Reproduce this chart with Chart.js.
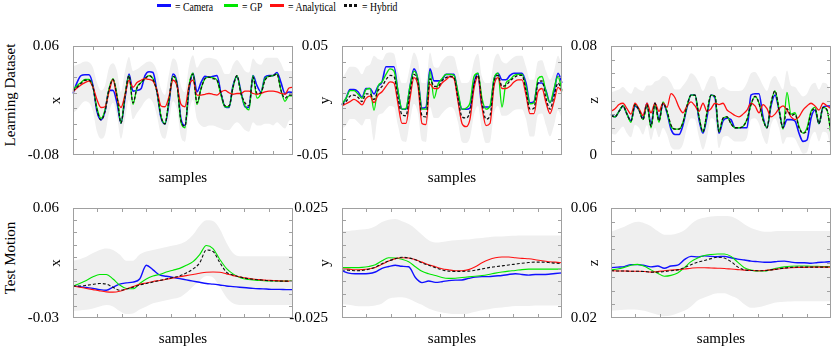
<!DOCTYPE html>
<html>
<head>
<meta charset="utf-8">
<script src="https://cdn.jsdelivr.net/npm/chart.js@4.4.1/dist/chart.umd.min.js"></script>
<style>
  body { margin: 0; width: 831px; height: 348px; overflow: hidden; background: #fff; position: relative;
         font-family: 'Liberation Serif', 'Times New Roman', serif; }
  canvas { position: absolute; }
  .leg { position: absolute; top: 0; font-size: 13.5px; line-height: 14px; white-space: nowrap;
         transform: scaleX(0.72); transform-origin: 0 0; }
  .sw { position: absolute; top: 4px; width: 14px; height: 3px; }
  .row { position: absolute; font-size: 15px; white-space: nowrap; transform: translate(-50%, -50%) rotate(-90deg); }
</style>
</head>
<body>

<div class="sw" style="left:157px;background:#1010ff"></div><div class="leg" style="left:175px">= Camera</div>
<div class="sw" style="left:224px;background:#00e600"></div><div class="leg" style="left:242px">= GP</div>
<div class="sw" style="left:270px;background:#ff1010"></div><div class="leg" style="left:288px">= Analytical</div>
<div class="sw" style="left:344px;background:repeating-linear-gradient(90deg,#111 0 3px,transparent 3px 5px)"></div><div class="leg" style="left:362px">= Hybrid</div>

<div class="row" style="left:10px;top:95px">Learning Dataset</div>
<div class="row" style="left:10px;top:258px">Test Motion</div>

<canvas id="g1" width="301" height="167" style="left:0px;top:23px"></canvas>
<canvas id="g2" width="301" height="167" style="left:269px;top:23px"></canvas>
<canvas id="g3" width="301" height="167" style="left:538px;top:23px"></canvas>
<canvas id="g4" width="301" height="168" style="left:0px;top:185px"></canvas>
<canvas id="g5" width="301" height="168" style="left:269px;top:185px"></canvas>
<canvas id="g6" width="301" height="168" style="left:538px;top:185px"></canvas>

<script>
// ---- Learning Dataset, x ----
var learnXCamera = [-0.001,0.013,0.022,0.023,0.023,0.009,-0.024,-0.035,-0.024,0.003, 0.003,-0.013,-0.039,-0.007,0.024,0.002,0.003,0.005,0.022,0.027, 0.026,0.001,-0.032,-0.040,-0.013,0.024,0.013,-0.034,-0.042,0.003, 0.025,0.001,0.013,0.021,0.020,0.021,0.022,-0.001,-0.018,-0.019, 0.009,0.021,0.001,-0.018,-0.019,0.022,0.009,0.001,0.020,0.022, 0.022,0.026,0.013,-0.001,0.001,0.000];
var learnXGP = [0.004,0.009,0.013,0.017,0.017,0.007,-0.020,-0.033,-0.022,0.005, 0.018,-0.003,-0.039,-0.003,0.022,-0.015,0.007,0.013,0.018,0.022, 0.018,0.001,-0.030,-0.040,-0.009,0.021,0.011,-0.038,-0.045,0.009, 0.025,-0.015,0.005,0.018,0.020,0.019,0.016,-0.003,-0.018,-0.018, 0.007,0.022,-0.001,-0.017,-0.022,0.022,-0.007,-0.001,0.018,0.021, 0.022,0.024,0.003,-0.011,-0.004,-0.004];
var learnXAnalytical = [0.001,0.006,0.010,0.013,0.015,0.007,-0.009,-0.019,-0.018,0.001, 0.017,-0.007,-0.019,-0.003,0.016,0.007,0.013,0.016,0.018,0.017, 0.015,0.003,-0.017,-0.018,-0.005,0.016,0.009,-0.015,-0.018,0.009, 0.016,-0.003,-0.003,-0.002,-0.001,-0.002,-0.003,0.001,0.003,0.000, -0.002,-0.001,-0.001,0.002,0.002,-0.001,-0.002,-0.001,0.001,0.002, 0.002,0.001,-0.001,-0.002,0.006,0.007];
var learnXHybrid = [0.002,0.007,0.012,0.016,0.016,0.007,-0.022,-0.035,-0.024,0.004, 0.017,-0.005,-0.039,-0.005,0.022,-0.013,0.006,0.013,0.018,0.022, 0.017,0.001,-0.031,-0.040,-0.009,0.021,0.011,-0.036,-0.043,0.007, 0.024,-0.013,0.005,0.018,0.020,0.018,0.016,-0.001,-0.017,-0.017, 0.007,0.022,-0.001,-0.013,-0.017,0.020,-0.001,0.000,0.016,0.021, 0.022,0.024,0.003,-0.007,-0.003,-0.003];
var learnXUpper = [0.034,0.036,0.038,0.040,0.039,0.032,0.013,0.003,0.009,0.032, 0.038,0.028,0.001,0.028,0.046,0.028,0.030,0.034,0.038,0.040, 0.038,0.028,0.005,-0.003,0.024,0.044,0.038,0.009,0.001,0.034, 0.048,0.032,0.040,0.044,0.045,0.044,0.042,0.034,0.024,0.024, 0.036,0.042,0.036,0.028,0.026,0.044,0.038,0.036,0.044,0.045, 0.045,0.045,0.038,0.028,0.028,0.028];
var learnXLower = [-0.026,-0.022,-0.015,-0.011,-0.013,-0.024,-0.050,-0.059,-0.054,-0.026, -0.013,-0.030,-0.059,-0.034,-0.009,-0.034,-0.026,-0.019,-0.011,-0.007, -0.013,-0.030,-0.054,-0.059,-0.038,-0.011,-0.022,-0.057,-0.063,-0.026, -0.009,-0.034,-0.042,-0.044,-0.042,-0.042,-0.044,-0.046,-0.048,-0.048, -0.042,-0.038,-0.042,-0.048,-0.050,-0.038,-0.042,-0.042,-0.040,-0.040, -0.042,-0.038,-0.042,-0.046,-0.036,-0.034];

// ---- Learning Dataset, y ----
var learnYCamera = [-0.004,0.002,0.010,0.010,0.008,0.003,0.011,0.011,0.006,0.013, 0.017,0.031,0.031,0.031,0.008,-0.008,-0.008,0.013,0.029,0.019, -0.007,-0.006,0.029,0.018,0.018,0.019,0.024,0.024,0.024,0.005, -0.008,-0.008,-0.007,0.016,0.025,-0.006,-0.006,-0.006,0.019,0.025, 0.019,0.019,0.023,0.025,0.025,0.025,0.016,-0.002,-0.001,0.016, 0.016,0.009,-0.002,0.008,0.025,0.016];
var learnYGP = [-0.003,0.002,0.009,0.009,0.006,0.002,0.010,0.011,-0.009,0.013, 0.017,0.024,0.029,0.027,0.009,-0.008,-0.007,0.013,0.027,0.019, -0.008,-0.008,0.027,0.002,0.015,0.020,0.024,0.024,0.023,0.008, -0.008,-0.007,-0.002,0.022,0.025,0.002,-0.008,-0.005,0.020,0.025, -0.006,0.016,0.019,0.023,0.024,0.024,0.013,-0.003,-0.002,0.020, 0.022,0.008,-0.002,0.011,0.022,0.009];
var learnYAnalytical = [-0.005,-0.003,-0.001,0.001,-0.001,-0.004,0.002,0.004,-0.002,0.005, 0.008,0.013,0.017,0.016,-0.003,-0.021,-0.021,0.002,0.021,0.013, -0.021,-0.022,0.015,0.011,0.011,0.016,0.019,0.022,0.020,-0.001, -0.021,-0.024,-0.017,0.011,0.022,-0.006,-0.023,-0.021,0.013,0.021, 0.011,0.011,0.013,0.017,0.019,0.019,0.005,-0.012,-0.012,0.008, 0.011,-0.002,-0.012,-0.001,0.012,0.008];
var learnYHybrid = [-0.004,-0.001,0.004,0.005,0.003,-0.001,0.006,0.006,0.001,0.009, 0.013,0.019,0.023,0.022,0.002,-0.013,-0.014,0.008,0.024,0.016, -0.014,-0.015,0.020,0.013,0.013,0.018,0.021,0.022,0.021,0.002, -0.015,-0.016,-0.010,0.015,0.023,-0.002,-0.017,-0.014,0.017,0.023, 0.013,0.014,0.018,0.021,0.023,0.023,0.009,-0.008,-0.007,0.016, 0.018,0.002,-0.008,0.004,0.016,0.009];
var learnYUpper = [0.020,0.026,0.031,0.031,0.029,0.024,0.031,0.033,0.041,0.038, 0.037,0.043,0.044,0.043,0.027,0.016,0.016,0.031,0.044,0.036, 0.016,0.016,0.044,0.031,0.030,0.036,0.040,0.041,0.040,0.027, 0.016,0.016,0.019,0.036,0.043,0.022,0.016,0.016,0.037,0.043, 0.036,0.034,0.037,0.040,0.041,0.041,0.031,0.019,0.019,0.036, 0.037,0.027,0.019,0.027,0.041,0.031];
var learnYLower = [-0.026,-0.023,-0.017,-0.017,-0.020,-0.023,-0.017,-0.017,-0.037,-0.014, -0.012,-0.008,-0.005,-0.006,-0.023,-0.037,-0.038,-0.019,-0.003,-0.012, -0.037,-0.038,-0.006,-0.016,-0.016,-0.012,-0.008,-0.006,-0.008,-0.020, -0.038,-0.039,-0.034,-0.013,-0.005,-0.027,-0.039,-0.038,-0.012,-0.005, -0.014,-0.014,-0.012,-0.009,-0.008,-0.008,-0.017,-0.033,-0.033,-0.013, -0.012,-0.023,-0.033,-0.023,-0.009,-0.017];

// ---- Learning Dataset, z ----
var learnZCamera = [0.030,0.028,0.032,0.036,0.030,0.025,0.036,0.033,0.027,0.038, 0.022,0.038,0.026,0.038,0.031,0.019,0.015,0.015,0.022,0.035, 0.044,0.044,0.026,0.016,0.028,0.044,0.042,0.016,0.025,0.027, 0.026,0.020,0.020,0.020,0.020,0.044,0.045,0.045,0.028,0.020, 0.036,0.044,0.033,0.020,0.026,0.026,0.025,0.016,0.010,0.011, 0.027,0.033,0.023,0.035,0.036,0.036];
var learnZGP = [0.029,0.028,0.032,0.036,0.030,0.024,0.037,0.033,0.026,0.037, 0.020,0.037,0.024,0.039,0.032,0.021,0.019,0.019,0.024,0.036, 0.044,0.044,0.028,0.017,0.031,0.044,0.043,0.017,0.027,0.028, 0.023,0.020,0.020,0.021,0.026,0.037,0.043,0.038,0.026,0.020, 0.038,0.047,0.034,0.019,0.046,0.030,0.031,0.021,0.016,0.020, 0.032,0.035,0.023,0.035,0.033,0.015];
var learnZAnalytical = [0.032,0.034,0.037,0.038,0.034,0.030,0.038,0.034,0.029,0.038, 0.031,0.038,0.032,0.038,0.035,0.045,0.042,0.035,0.031,0.036, 0.039,0.036,0.032,0.038,0.032,0.034,0.038,0.037,0.038,0.033, 0.031,0.029,0.028,0.030,0.033,0.038,0.036,0.031,0.037,0.034, 0.028,0.030,0.034,0.036,0.033,0.028,0.026,0.028,0.033,0.036, 0.038,0.036,0.033,0.038,0.036,0.034];
var learnZHybrid = [0.029,0.028,0.032,0.036,0.030,0.025,0.037,0.033,0.026,0.037, 0.021,0.038,0.025,0.038,0.032,0.022,0.019,0.019,0.024,0.036, 0.044,0.044,0.028,0.017,0.031,0.044,0.043,0.017,0.027,0.028, 0.023,0.020,0.020,0.021,0.026,0.037,0.043,0.038,0.026,0.020, 0.038,0.047,0.033,0.020,0.034,0.029,0.030,0.020,0.016,0.018, 0.031,0.034,0.023,0.035,0.033,0.016];
var learnZUpper = [0.046,0.047,0.048,0.050,0.047,0.045,0.050,0.048,0.047,0.051, 0.051,0.054,0.055,0.058,0.057,0.053,0.048,0.048,0.051,0.055, 0.060,0.058,0.053,0.047,0.053,0.058,0.057,0.048,0.050,0.048, 0.047,0.047,0.047,0.048,0.053,0.060,0.061,0.057,0.051,0.047, 0.055,0.058,0.053,0.048,0.062,0.051,0.050,0.046,0.043,0.045, 0.051,0.053,0.048,0.053,0.052,0.045];
var learnZLower = [0.016,0.015,0.018,0.021,0.016,0.013,0.022,0.020,0.015,0.022, 0.011,0.020,0.013,0.020,0.015,0.006,0.004,0.004,0.008,0.020, 0.027,0.026,0.013,0.004,0.013,0.027,0.025,0.005,0.013,0.014, 0.012,0.010,0.010,0.010,0.013,0.026,0.027,0.023,0.013,0.008, 0.022,0.027,0.020,0.008,0.013,0.013,0.012,0.006,0.001,0.002, 0.013,0.017,0.010,0.017,0.016,0.003];

// ---- Test Motion, x ----
var testXCamera = [-0.0038,-0.0043,-0.0051,-0.0058,-0.0068,-0.0073,-0.0048,-0.0023,-0.0013,-0.0006, 0.0019,0.0131,0.0094,0.0052,0.0042,0.0032,0.0022,0.0012,0.0002,-0.0008, -0.0018,-0.0023,-0.0030,-0.0038,-0.0043,-0.0048,-0.0053,-0.0058,-0.0061,-0.0063, -0.0066,-0.0066,-0.0068,-0.0068];
var testXGP = [-0.0038,-0.0018,0.0007,0.0037,0.0056,0.0056,0.0019,-0.0030,-0.0058,-0.0061, -0.0018,0.0019,0.0044,0.0056,0.0076,0.0091,0.0106,0.0131,0.0161,0.0219, 0.0293,0.0268,0.0181,0.0106,0.0061,0.0032,0.0017,0.0012,0.0007,0.0004, 0.0004,0.0002,0.0002,0.0002];
var testXAnalytical = [-0.0038,-0.0048,-0.0058,-0.0068,-0.0078,-0.0086,-0.0088,-0.0081,-0.0063,-0.0043, -0.0025,-0.0013,-0.0001,0.0007,0.0017,0.0027,0.0037,0.0047,0.0056,0.0066, 0.0074,0.0076,0.0074,0.0061,0.0047,0.0037,0.0027,0.0019,0.0014,0.0009, 0.0007,0.0004,0.0002,-0.0001];
var testXHybrid = [-0.0038,-0.0038,-0.0033,-0.0025,-0.0018,-0.0023,-0.0048,-0.0073,-0.0063,-0.0048, -0.0030,-0.0018,-0.0006,0.0007,0.0019,0.0032,0.0044,0.0069,0.0101,0.0151, 0.0256,0.0244,0.0156,0.0076,0.0052,0.0037,0.0024,0.0017,0.0012,0.0007, 0.0004,0.0002,0.0002,-0.0001];
var testXUpper = [0.0169,0.0181,0.0201,0.0231,0.0256,0.0268,0.0256,0.0219,0.0169,0.0169, 0.0219,0.0244,0.0256,0.0268,0.0281,0.0293,0.0306,0.0331,0.0381,0.0455, 0.0500,0.0493,0.0430,0.0318,0.0231,0.0206,0.0206,0.0206,0.0206,0.0206, 0.0206,0.0206,0.0206,0.0206];
var testXLower = [-0.0243,-0.0238,-0.0233,-0.0223,-0.0205,-0.0193,-0.0205,-0.0243,-0.0267,-0.0263, -0.0230,-0.0205,-0.0180,-0.0168,-0.0155,-0.0143,-0.0130,-0.0093,-0.0043,0.0007, 0.0044,0.0032,-0.0043,-0.0130,-0.0180,-0.0193,-0.0193,-0.0193,-0.0193,-0.0193, -0.0193,-0.0193,-0.0193,-0.0193];

// ---- Test Motion, y ----
var testYCamera = [-0.0035,-0.0046,-0.0049,-0.0049,-0.0048,-0.0041,-0.0024,-0.0016,-0.0010,-0.0015, -0.0017,-0.0066,-0.0089,-0.0082,-0.0088,-0.0085,-0.0080,-0.0078,-0.0077,-0.0070, -0.0064,-0.0062,-0.0062,-0.0059,-0.0057,-0.0052,-0.0049,-0.0052,-0.0055,-0.0052, -0.0052,-0.0051,-0.0048,-0.0045];
var testYGP = [-0.0021,-0.0021,-0.0021,-0.0020,-0.0016,-0.0008,0.0010,0.0024,0.0023,0.0017, 0.0006,-0.0017,-0.0038,-0.0049,-0.0057,-0.0066,-0.0070,-0.0069,-0.0066,-0.0063, -0.0060,-0.0057,-0.0052,-0.0046,-0.0041,-0.0037,-0.0034,-0.0030,-0.0028,-0.0028, -0.0028,-0.0028,-0.0028,-0.0028];
var testYAnalytical = [-0.0027,-0.0028,-0.0031,-0.0030,-0.0027,-0.0020,-0.0006,0.0009,0.0020,0.0024, 0.0023,0.0015,0.0004,-0.0008,-0.0017,-0.0026,-0.0031,-0.0035,-0.0035,-0.0030, -0.0017,0.0001,0.0015,0.0024,0.0027,0.0027,0.0024,0.0021,0.0019,0.0015, 0.0010,0.0006,0.0004,0.0001];
var testYHybrid = [-0.0031,-0.0033,-0.0035,-0.0034,-0.0028,-0.0019,-0.0003,0.0009,0.0020,0.0026, 0.0023,0.0015,0.0001,-0.0010,-0.0021,-0.0031,-0.0037,-0.0038,-0.0038,-0.0037, -0.0033,-0.0027,-0.0021,-0.0017,-0.0013,-0.0009,-0.0005,-0.0001,0.0002,0.0004, 0.0004,0.0002,-0.0001,-0.0003];
var testYUpper = [0.0145,0.0146,0.0149,0.0152,0.0156,0.0167,0.0186,0.0197,0.0200,0.0190, 0.0177,0.0156,0.0128,0.0103,0.0093,0.0096,0.0100,0.0103,0.0106,0.0107, 0.0111,0.0114,0.0117,0.0120,0.0121,0.0123,0.0124,0.0125,0.0125,0.0125, 0.0125,0.0125,0.0125,0.0125];
var testYLower = [-0.0188,-0.0190,-0.0195,-0.0197,-0.0197,-0.0193,-0.0184,-0.0163,-0.0157,-0.0156, -0.0163,-0.0177,-0.0190,-0.0207,-0.0218,-0.0225,-0.0229,-0.0232,-0.0232,-0.0229, -0.0222,-0.0215,-0.0210,-0.0204,-0.0202,-0.0199,-0.0196,-0.0195,-0.0195,-0.0193, -0.0193,-0.0193,-0.0193,-0.0193];

// ---- Test Motion, z ----
var testZCamera = [0.0383,0.0385,0.0387,0.0394,0.0394,0.0391,0.0386,0.0389,0.0381,0.0389, 0.0392,0.0412,0.0424,0.0422,0.0426,0.0424,0.0423,0.0424,0.0419,0.0414, 0.0411,0.0407,0.0405,0.0403,0.0403,0.0406,0.0407,0.0403,0.0401,0.0401, 0.0399,0.0402,0.0403,0.0405];
var testZGP = [0.0375,0.0378,0.0384,0.0392,0.0395,0.0388,0.0375,0.0363,0.0352,0.0355, 0.0364,0.0383,0.0405,0.0418,0.0427,0.0431,0.0433,0.0433,0.0424,0.0403, 0.0383,0.0374,0.0371,0.0371,0.0376,0.0382,0.0386,0.0388,0.0389,0.0389, 0.0388,0.0388,0.0387,0.0387];
var testZAnalytical = [0.0372,0.0371,0.0371,0.0370,0.0370,0.0369,0.0367,0.0369,0.0372,0.0374, 0.0376,0.0378,0.0381,0.0383,0.0383,0.0382,0.0381,0.0380,0.0378,0.0376, 0.0374,0.0373,0.0372,0.0373,0.0375,0.0378,0.0381,0.0383,0.0384,0.0384, 0.0385,0.0385,0.0385,0.0385];
var testZHybrid = [0.0372,0.0371,0.0371,0.0370,0.0370,0.0369,0.0367,0.0367,0.0369,0.0372, 0.0375,0.0383,0.0394,0.0403,0.0409,0.0416,0.0421,0.0418,0.0405,0.0386, 0.0375,0.0373,0.0372,0.0372,0.0375,0.0378,0.0382,0.0384,0.0385,0.0385, 0.0385,0.0385,0.0385,0.0385];
var testZUpper = [0.0514,0.0523,0.0532,0.0544,0.0550,0.0545,0.0534,0.0516,0.0503,0.0503, 0.0508,0.0519,0.0541,0.0558,0.0565,0.0569,0.0571,0.0571,0.0569,0.0558, 0.0541,0.0527,0.0519,0.0514,0.0514,0.0516,0.0516,0.0516,0.0516,0.0516, 0.0516,0.0516,0.0516,0.0516];
var testZLower = [0.0226,0.0228,0.0230,0.0231,0.0230,0.0226,0.0219,0.0212,0.0206,0.0209, 0.0217,0.0226,0.0242,0.0264,0.0275,0.0284,0.0290,0.0290,0.0281,0.0270, 0.0250,0.0237,0.0239,0.0245,0.0252,0.0257,0.0259,0.0260,0.0261,0.0261, 0.0261,0.0261,0.0261,0.0261];

// rangos y etiquetas de los ejes (min, max)
var rangoLearnX = [-0.08, 0.06], etiqLearnX = ['-0.08', '0.06'];
var rangoLearnY = [-0.05, 0.05], etiqLearnY = ['-0.05', '0.05'];
var rangoLearnZ = [0, 0.08],     etiqLearnZ = ['0', '0.08'];
var rangoTestX = [-0.03, 0.06],  etiqTestX = ['-0.03', '0.06'];
var rangoTestY = [-0.025, 0.025], etiqTestY = ['-0.025', '0.025'];
var rangoTestZ = [0.02, 0.06],   etiqTestZ = ['0.02', '0.06'];

var colCamera = '#1010ff', colGP = '#00e600', colAnalytical = '#ff1010', colHybrid = '#111111', colBanda = '#efefef';
var fuente = {family: "'Liberation Serif', 'Times New Roman', serif", size: 15};

// marco gris con marcas hacia dentro
var marcoPlugin = {
  id: 'marco',
  afterDatasetsDraw: function (chart, args, opts) {
    var ctx = chart.ctx, a = chart.chartArea;
    ctx.save();
    ctx.strokeStyle = '#a0a0a0';
    ctx.lineWidth = 1;
    ctx.strokeRect(Math.round(a.left) + 0.5, Math.round(a.top) + 0.5, Math.round(a.width) - 1, Math.round(a.height) - 1);
    ctx.beginPath();
    for (var i = 1; i < opts.divX; i++) {
      var x = Math.round(a.left + a.width * i / opts.divX) + 0.5;
      ctx.moveTo(x, a.top); ctx.lineTo(x, a.top + 4);
      ctx.moveTo(x, a.bottom); ctx.lineTo(x, a.bottom - 4);
    }
    for (var j = 1; j < opts.divY; j++) {
      var y = Math.round(a.top + a.height * j / opts.divY) + 0.5;
      ctx.moveTo(a.left, y); ctx.lineTo(a.left + 4, y);
      ctx.moveTo(a.right, y); ctx.lineTo(a.right - 4, y);
    }
    ctx.stroke();
    ctx.restore();
  }
};

var paneles = [
  {id: 'g1', eje: 'x', cam: learnXCamera, gp: learnXGP, ana: learnXAnalytical, hyb: learnXHybrid, up: learnXUpper, lo: learnXLower, rango: rangoLearnX, etiq: etiqLearnX, fila: 0, divX: 11, divY: 7},
  {id: 'g2', eje: 'y', cam: learnYCamera, gp: learnYGP, ana: learnYAnalytical, hyb: learnYHybrid, up: learnYUpper, lo: learnYLower, rango: rangoLearnY, etiq: etiqLearnY, fila: 0, divX: 11, divY: 7},
  {id: 'g3', eje: 'z', cam: learnZCamera, gp: learnZGP, ana: learnZAnalytical, hyb: learnZHybrid, up: learnZUpper, lo: learnZLower, rango: rangoLearnZ, etiq: etiqLearnZ, fila: 0, divX: 11, divY: 8},
  {id: 'g4', eje: 'x', cam: testXCamera, gp: testXGP, ana: testXAnalytical, hyb: testXHybrid, up: testXUpper, lo: testXLower, rango: rangoTestX, etiq: etiqTestX, fila: 1, divX: 9, divY: 9},
  {id: 'g5', eje: 'y', cam: testYCamera, gp: testYGP, ana: testYAnalytical, hyb: testYHybrid, up: testYUpper, lo: testYLower, rango: rangoTestY, etiq: etiqTestY, fila: 1, divX: 9, divY: 9},
  {id: 'g6', eje: 'z', cam: testZCamera, gp: testZGP, ana: testZAnalytical, hyb: testZHybrid, up: testZUpper, lo: testZLower, rango: rangoTestZ, etiq: etiqTestZ, fila: 1, divX: 9, divY: 8}
];

function dibujarPanel(p) {
  var muestras = [];
  for (var i = 0; i < p.cam.length; i++) muestras.push(i);
  var grosor = p.fila === 0 ? 1.3 : 1.1;

  new Chart(document.getElementById(p.id), {
    type: 'line',
    data: {
      labels: muestras,
      datasets: [
        {data: p.hyb, borderColor: colHybrid, borderDash: [3, 2], borderWidth: grosor, order: 1},
        {data: p.ana, borderColor: colAnalytical, borderWidth: grosor, order: 2},
        {data: p.gp, borderColor: colGP, borderWidth: grosor, order: 3},
        {data: p.cam, borderColor: colCamera, borderWidth: grosor + 0.3, order: 4},
        {data: p.up, borderColor: 'rgba(0,0,0,0)', borderWidth: 0, backgroundColor: colBanda, fill: '+1', order: 10},
        {data: p.lo, borderColor: 'rgba(0,0,0,0)', borderWidth: 0, fill: false, order: 11}
      ]
    },
    options: {
      responsive: false,
      animation: false,
      devicePixelRatio: 1,
      layout: {padding: {top: 12, right: 8, left: 0, bottom: 0}},
      elements: {
        point: {radius: 0},
        line: {cubicInterpolationMode: 'monotone', fill: false}
      },
      plugins: {
        legend: {display: false},
        tooltip: {enabled: false},
        marco: {divX: p.divX, divY: p.divY}
      },
      scales: {
        x: {
          grid: {display: false, drawTicks: false},
          border: {display: false},
          ticks: {display: false},
          title: {display: true, text: 'samples', font: fuente, color: '#000',
                  padding: {top: 0, bottom: p.fila === 0 ? 3 : 5}},
          afterFit: function (s) { s.height = 35; }
        },
        y: {
          min: p.rango[0],
          max: p.rango[1],
          grid: {display: false, drawTicks: false},
          border: {display: false},
          afterBuildTicks: function (s) { s.ticks = [{value: p.rango[0]}, {value: p.rango[1]}]; },
          ticks: {autoSkip: false, padding: 14, font: fuente, color: '#000',
                  callback: function (v, i) { return p.etiq[i]; }},
          title: {display: true, text: p.eje, font: fuente, color: '#000', padding: {top: 47, bottom: 0}},
          afterFit: function (s) { s.width = 73; }
        }
      }
    },
    plugins: [marcoPlugin]
  });
}

paneles.forEach(dibujarPanel);
</script>
</body>
</html>
